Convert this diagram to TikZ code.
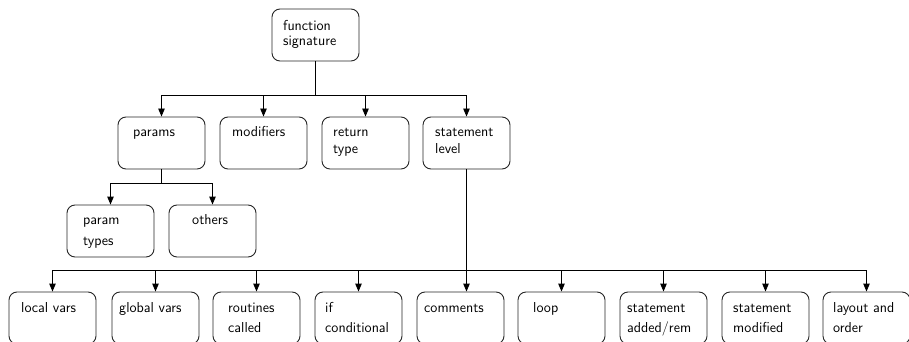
\documentclass[tikz,border=0pt]{standalone}
\usepackage{fontspec}
\usetikzlibrary{arrows.meta}
\tikzset{
  box/.style={draw=black!85, line width=0.9pt, rounded corners=8pt,
    minimum width=87pt, minimum height=52pt, inner sep=0pt},
  lbl/.style={anchor=base west, inner sep=0pt,
    font=\sffamily\fontsize{14.4}{17}\selectfont},
  link/.style={line width=0.9pt, draw=black},
  arr/.style={link, -{Triangle[length=8pt,width=6.5pt]}}
}
% \tbox{name}{left}{top}{text dx}{first baseline}{line skip}{first line}{second line}
\newcommand\tbox[8]{%
  \node[box] (#1) at (#2+43.5,#3+26) {};
  \node[lbl] (#1-a) at (#2+#4,#3+#5) {#7};
  \if\relax\detokenize{#8}\relax\else
    \node[lbl] (#1-b) at (#2+#4,#3+#5+#6) {#8};
  \fi
}
\begin{document}
\begin{tikzpicture}[x=1pt,y=-1pt]
\useasboundingbox (0,0) rectangle (909,342);

% root
\tbox{root}{272}{9}{11}{22}{15}{function}{signature}

% second level
\tbox{params}{118}{117}{15}{19.5}{17}{params}{}
\tbox{mods}{220}{117}{12}{19.5}{17}{modifiers}{}
\tbox{ret}{322}{117}{11}{19.5}{17}{return}{type}
\tbox{stmt}{423}{117}{12}{19.5}{17}{statement}{level}

% parameter details
\tbox{ptypes}{67}{205}{16}{19}{21}{param}{types}
\tbox{others}{169}{205}{23}{19}{21}{others}{}

% statement details
\tbox{local}{9}{292}{12}{20}{20}{local vars}{}
\tbox{global}{112}{292}{7}{20}{20}{global vars}{}
\tbox{routines}{213}{292}{15}{20}{20}{routines}{called}
\tbox{ifc}{315}{292}{10}{20}{20}{if}{conditional}
\tbox{comments}{417}{292}{7}{20}{20}{comments}{}
\tbox{loop}{518}{292}{15}{20}{20}{loop}{}
\tbox{added}{620}{292}{7}{20}{20}{statement}{added/rem}
\tbox{modified}{722}{292}{11}{20}{20}{statement}{modified}
\tbox{layout}{823}{292}{10}{20}{20}{layout and}{order}

% junction points
\coordinate (j1) at (root.south |- 0,95);
\coordinate (j2) at (params.south |- 0,183);
\coordinate (j3) at (stmt.south |- 0,270);

% root to second level
\draw[link] (root.south) -- (j1);
\foreach \n in {params,mods,ret,stmt}
  \draw[arr] (j1) -| (\n);

% params to its children
\draw[link] (params.south) -- (j2);
\foreach \n in {ptypes,others}
  \draw[arr] (j2) -| (\n);

% statement level to its children
\draw[arr] (stmt.south) -- (stmt.south |- comments.north);
\foreach \n in {local,global,routines,ifc,loop,added,modified,layout}
  \draw[arr] (j3) -| (\n);
\end{tikzpicture}
\end{document}
